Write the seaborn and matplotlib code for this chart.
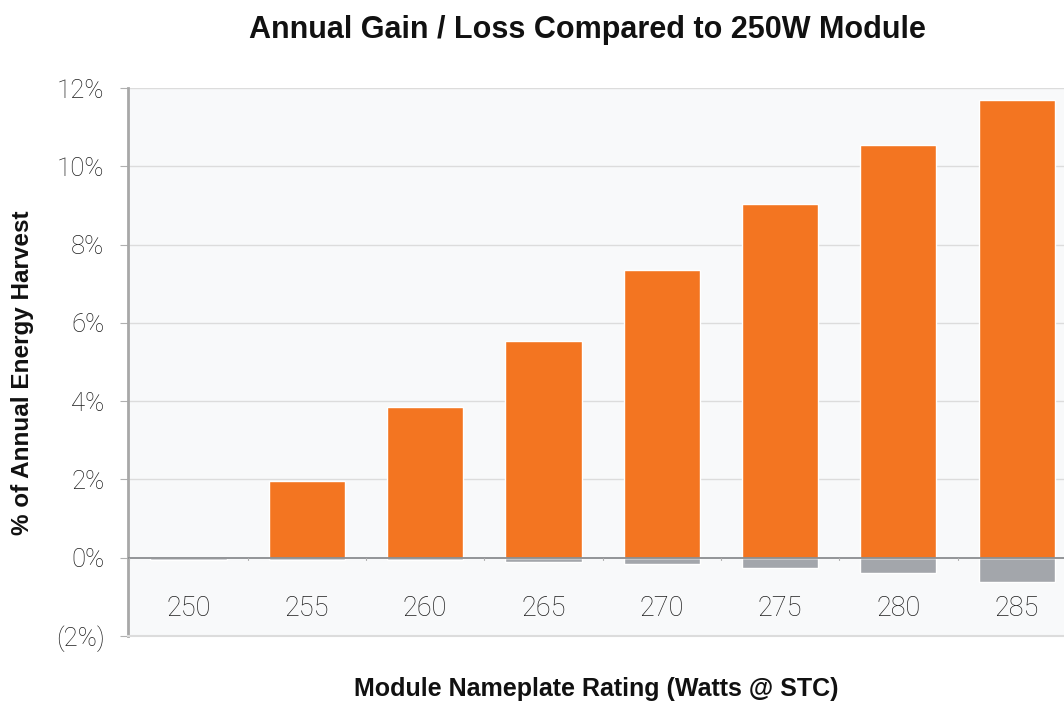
import matplotlib
matplotlib.use("Agg")
import matplotlib.pyplot as plt
import seaborn as sns
import pandas as pd

ratings = ["250", "255", "260", "265", "270", "275", "280", "285"]
gain = [0.0, 1.97, 3.85, 5.54, 7.35, 9.04, 10.54, 11.69]
loss = [-0.07, -0.07, -0.07, -0.10, -0.15, -0.26, -0.38, -0.61]
yticks = [-2, 0, 2, 4, 6, 8, 10, 12]
ytick_labels = ["(2%)", "0%", "2%", "4%", "6%", "8%", "10%", "12%"]

sns.set_theme(style="white")
plt.rcParams["font.family"] = ["Liberation Sans", "DejaVu Sans"]

fig = plt.figure(figsize=(10.64, 7.03), dpi=100)
ax = fig.add_axes([0.1203, 0.0953, 0.8797, 0.7795])
ax.set_facecolor("#f8f9fa")

df = pd.DataFrame({"rating": ratings, "gain": gain, "loss": loss})
sns.barplot(data=df, x="rating", y="loss", order=ratings, color="#a3a6ab",
            width=0.645, saturation=1, ax=ax, zorder=3)
sns.barplot(data=df, x="rating", y="gain", order=ratings, color="#f37521",
            width=0.645, saturation=1, ax=ax, zorder=3)

ax.set_ylim(-2, 12)
ax.set_xlim(-0.51, 7.4)
ax.set_yticks(yticks)
ax.set_yticklabels(ytick_labels, fontsize=18.5, color="#1e1e1e", fontfamily="Roboto", fontweight="light")
for y in yticks:
    if y == 0:
        ax.axhline(0, color="#8a8c8f", lw=1.3, zorder=4)
    elif y > -2:
        ax.axhline(y, color="#dcdcdc", lw=1.0, zorder=1)
ax.set_xticks([])
for i, r in enumerate(ratings):
    ax.text(i, -1.3, r, ha="center", va="center", fontsize=19.5, color="#1e1e1e",
            fontfamily="Roboto", fontweight="light")
    ax.plot([i - 0.5, i - 0.5], [0, -0.06], color="#b0b0b0", lw=0.8, zorder=4)

ax.tick_params(axis="y", which="both", left=True, length=6, width=0.8, color="#b0b0b0", pad=11)
for s in ["top", "right"]:
    ax.spines[s].set_visible(False)
ax.spines["left"].set_color("#a8a8a8")
ax.spines["left"].set_linewidth(2)
ax.spines["bottom"].set_color("#dcdcdc")
ax.spines["bottom"].set_linewidth(1.5)
ax.axhline(12, color="#dcdcdc", lw=1.2, zorder=1)

ax.set_xlabel("")
ax.set_ylabel("")
fig.text(0.552, 0.957, "Annual Gain / Loss Compared to 250W Module", ha="center", va="center",
         fontsize=22, fontweight="bold", color="#111111")
fig.text(0.560, 0.020, "Module Nameplate Rating (Watts @ STC)", ha="center", va="center",
         fontsize=18, fontweight="bold", color="#111111")
fig.text(0.021, 0.47, "% of Annual Energy Harvest", ha="center", va="center", rotation=90,
         fontsize=17.5, fontweight="bold", color="#111111")

fig.savefig("out.png", dpi=100, facecolor="white")
